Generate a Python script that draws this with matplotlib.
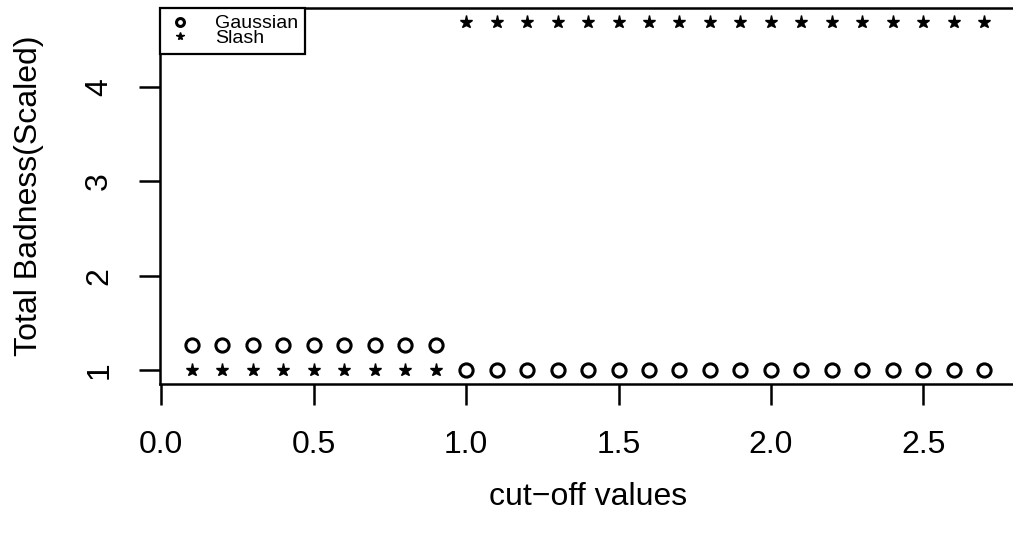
import matplotlib
matplotlib.use("Agg")
import matplotlib.pyplot as plt

# cut-off values and the scaled total badness for each error model
cutoff = [0.1, 0.2, 0.3, 0.4, 0.5, 0.6, 0.7, 0.8, 0.9,
          1.0, 1.1, 1.2, 1.3, 1.4, 1.5, 1.6, 1.7, 1.8,
          1.9, 2.0, 2.1, 2.2, 2.3, 2.4, 2.5, 2.6, 2.7]
gaussian = [1.27, 1.27, 1.27, 1.27, 1.27, 1.27, 1.27, 1.27, 1.27,
            1.0, 1.0, 1.0, 1.0, 1.0, 1.0, 1.0, 1.0, 1.0,
            1.0, 1.0, 1.0, 1.0, 1.0, 1.0, 1.0, 1.0, 1.0]
slash = [1.0, 1.0, 1.0, 1.0, 1.0, 1.0, 1.0, 1.0, 1.0,
         4.69, 4.69, 4.69, 4.69, 4.69, 4.69, 4.69, 4.69, 4.69,
         4.69, 4.69, 4.69, 4.69, 4.69, 4.69, 4.69, 4.69, 4.69]

xticks = [0.0, 0.5, 1.0, 1.5, 2.0, 2.5]
xticklabels = ["0.0", "0.5", "1.0", "1.5", "2.0", "2.5"]
yticks = [1, 2, 3, 4]

plt.rcParams["font.family"] = ["Liberation Sans", "DejaVu Sans"]

fig = plt.figure(figsize=(10.13, 5.36), dpi=100)
ax = fig.add_axes([0.158, 0.2836, 0.845, 0.7014])

ax.plot(cutoff, gaussian, linestyle="none", marker="o", markersize=9.5,
        markerfacecolor="none", markeredgecolor="black", markeredgewidth=2.2,
        label="Gaussian")
ax.plot(cutoff, slash, linestyle="none", marker="*", markersize=9.5,
        color="black", label="Slash")

ax.set_xlim(-0.004, 2.804)
ax.set_ylim(0.852, 4.838)

ax.set_xticks(xticks)
ax.set_xticklabels(xticklabels)
ax.set_yticks(yticks)
ax.set_yticklabels([str(v) for v in yticks], rotation=90, va="center")

ax.tick_params(axis="both", direction="out", length=15, width=1.8,
               labelsize=23, color="black")
ax.tick_params(axis="x", pad=18)
ax.tick_params(axis="y", pad=18)

for side in ["left", "top", "bottom"]:
    ax.spines[side].set_linewidth(1.8)
ax.spines["right"].set_visible(False)

ax.set_xlabel("cut\u2212off values", fontsize=23, labelpad=16)
ax.set_ylabel("Total Badness(Scaled)", fontsize=23, labelpad=29)

leg = ax.legend(loc="upper left", bbox_to_anchor=(0, 1), borderaxespad=0,
                fancybox=False, framealpha=1, edgecolor="black",
                fontsize=14, markerscale=0.6, labelspacing=-0.15,
                handlelength=1.4, handletextpad=1.1, borderpad=0.35)
leg.get_frame().set_linewidth(1.6)

fig.savefig("out.png", dpi=100)
